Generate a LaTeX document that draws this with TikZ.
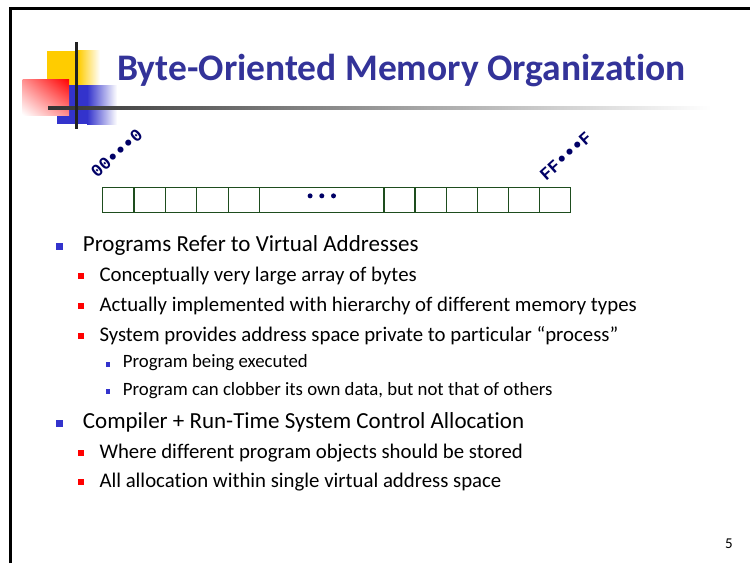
\documentclass[tikz,border=0pt]{standalone}
\usepackage{fontspec}
\usepackage{graphicx}
\setmainfont{Carlito}[Ligatures=NoCommon]
\newfontfamily\monob{Liberation Mono}
\usetikzlibrary{positioning,shadings}
\newcommand\adot{\makebox[0.6em][c]{\raisebox{-0.07em}{\scalebox{1.2}{•}}}}
\definecolor{titleblue}{HTML}{333399}
\definecolor{bulblue}{HTML}{3333CC}
\definecolor{bulred}{HTML}{FF0000}
\definecolor{arrgreen}{HTML}{1E4D1E}
\definecolor{navy}{HTML}{000066}
\definecolor{decoyellow}{HTML}{FFCC00}
\definecolor{decoblue}{HTML}{3333CC}
\tikzset{
  lvlone/.style={anchor=base west, inner sep=0pt, font=\fontsize{23}{27}\selectfont},
  lvltwo/.style={anchor=base west, inner sep=0pt, font=\fontsize{20.8}{24}\selectfont},
  lvlthree/.style={anchor=base west, inner sep=0pt, font=\fontsize{18.8}{22}\selectfont},
  bulone/.style={fill=bulblue, draw=none, minimum size=7pt, inner sep=0pt},
  bultwo/.style={fill=bulred, draw=none, minimum size=6pt, inner sep=0pt},
  bulthree/.style={fill=bulblue, draw=none, minimum size=4.5pt, inner sep=0pt},
  cell/.style={draw=arrgreen, line width=1.3pt, minimum height=25pt, inner sep=0pt, anchor=north west},
  addr/.style={anchor=base west, inner sep=0pt, text=navy, rotate=42, font=\monob\bfseries\fontsize{17.5}{19}\selectfont},
}
\begin{document}
\begin{tikzpicture}[x=1pt,y=-1pt]
\useasboundingbox (0,0) rectangle (750,563);
% frame
\draw[line width=3pt] (10.7,563) -- (10.7,8) -- (750,8);
% decoration
\fill[decoyellow] (47,50.7) rectangle (78,104);
\shade[left color=decoyellow, right color=white] (78,50.7) rectangle (100,104);
\fill[decoblue] (57.3,85) rectangle (87,124.3);
\shade[left color=decoblue, right color=white] (87,85) rectangle (117,124.3);
\shade[upper right=red, lower left=white, upper left=red!45!white, lower right=red!45!white] (22.7,79) rectangle (69,115);
\shade[left color=black!80, right color=white] (48,106.5) rectangle (711,109.5);
\fill[black!87] (75,42.3) rectangle (77.7,129);
% title
\node[anchor=base west, inner sep=0pt, text=titleblue, font=\bfseries\fontsize{37.5}{42}\selectfont] (title) at (117,80) {Byte-Oriented Memory Organization};
% memory array
\foreach \i/\a/\b in {1/101.7/133.3, 2/133.3/165, 3/165/196, 4/196/227.7, 5/227.7/259, 6/259/383.3, 7/383.3/414.3, 8/414.3/445.7, 9/445.7/476.7, 10/476.7/507.7, 11/507.7/539, 12/539/570}{
  \node[cell, minimum width={\b-\a}] (c\i) at (\a,186.7) {};
}
\foreach \k in {-11.7,0,11.7}{
  \fill[navy] ([xshift=\k pt, yshift=4pt]c6.center) circle (2.5pt);
}
\node[addr] (lo) at (97,179) {00\adot\adot\adot0};
\node[addr] (hi) at (546,181.5) {FF\adot\adot\adot F};
% bullets
\node[bulone] (b1) at (59,246) {};
\node[lvlone] (t1) at (82.7,251.7) {Programs Refer to Virtual Addresses};
\node[bultwo] (b2) at (80.5,276) {};
\node[lvltwo] (t2) at (99.3,281.7) {Conceptually very large array of bytes};
\node[bultwo] (b3) at (80.5,306) {};
\node[lvltwo] (t3) at (99.3,311.7) {Actually implemented with hierarchy of different memory types};
\node[bultwo] (b4) at (80.5,336) {};
\node[lvltwo] (t4) at (99.3,341.7) {System provides address space private to particular “process”};
\node[bulthree] (b5) at (108,364.5) {};
\node[lvlthree] (t5) at (122.7,367.7) {Program being executed};
\node[bulthree] (b6) at (108,391.5) {};
\node[lvlthree] (t6) at (122.7,395) {Program can clobber its own data, but not that of others};
\node[bulone] (b7) at (59,423) {};
\node[lvlone] (t7) at (82.7,428.7) {Compiler + Run-Time System Control Allocation};
\node[bultwo] (b8) at (80.5,452.5) {};
\node[lvltwo] (t8) at (99.3,458) {Where different program objects should be stored};
\node[bultwo] (b9) at (80.5,481.5) {};
\node[lvltwo] (t9) at (99.3,487) {All allocation within single virtual address space};
% page number
\node[anchor=base west, inner sep=0pt, font=\fontsize{15}{17}\selectfont] (pg) at (725,548.3) {5};
\end{tikzpicture}
\end{document}
